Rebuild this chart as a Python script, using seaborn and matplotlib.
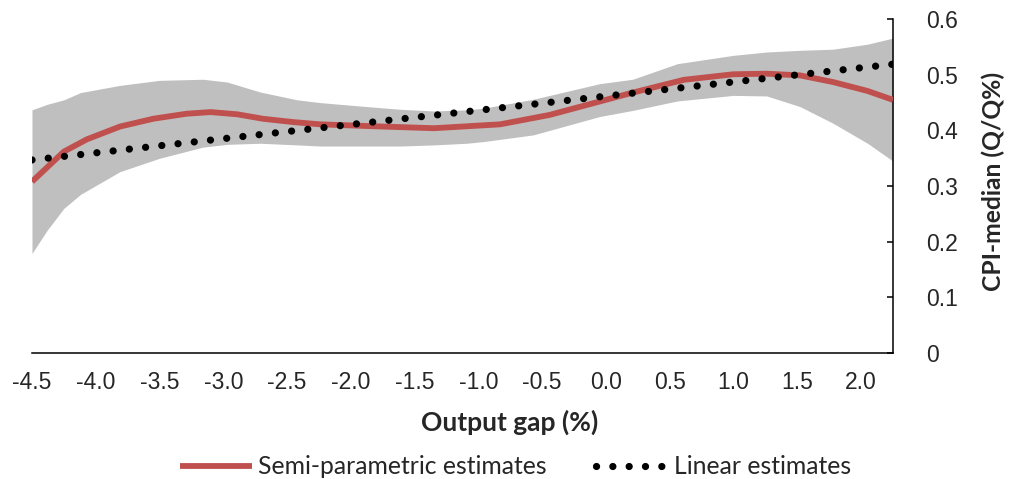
import matplotlib
matplotlib.use("Agg")
import matplotlib.pyplot as plt
import pandas as pd
import seaborn as sns

# ── data ─────────────────────────────────────────────────────────────────
semi_x = [-4.5, -4.25, -4.07, -3.81, -3.55, -3.29, -3.1, -2.89, -2.69, -2.45,
          -2.24, -1.88, -1.35, -0.83, -0.44, -0.05, 0.21, 0.61, 1.0, 1.26,
          1.52, 1.78, 2.05, 2.25]
semi_y = [0.308, 0.362, 0.384, 0.407, 0.421, 0.430, 0.433, 0.429, 0.421, 0.415,
          0.411, 0.408, 0.404, 0.411, 0.428, 0.452, 0.468, 0.491, 0.501, 0.502,
          0.499, 0.487, 0.471, 0.455]

band_x = [-4.5, -4.38, -4.25, -4.12, -3.81, -3.5, -3.16, -2.97, -2.71, -2.42,
          -2.24, -1.88, -1.61, -1.35, -1.09, -0.96, -0.57, -0.05, 0.21, 0.56,
          1.0, 1.26, 1.52, 1.78, 2.05, 2.25]
band_hi = [0.437, 0.447, 0.455, 0.468, 0.481, 0.490, 0.492, 0.487, 0.469, 0.455,
           0.450, 0.443, 0.438, 0.435, 0.437, 0.440, 0.456, 0.484, 0.492, 0.520,
           0.535, 0.541, 0.544, 0.546, 0.555, 0.566]
band_lo = [0.179, 0.221, 0.260, 0.285, 0.326, 0.350, 0.370, 0.375, 0.377, 0.374,
           0.372, 0.372, 0.372, 0.374, 0.377, 0.380, 0.392, 0.425, 0.436, 0.453,
           0.463, 0.462, 0.443, 0.413, 0.377, 0.345]

lin_x = [-4.5, 2.25]
lin_y = [0.347, 0.519]

x_ticks = [-4.5, -4.0, -3.5, -3.0, -2.5, -2.0, -1.5, -1.0, -0.5, 0.0, 0.5, 1.0, 1.5, 2.0]
y_ticks = [0, 0.1, 0.2, 0.3, 0.4, 0.5, 0.6]
y_tick_labels = ["0", "0.1", "0.2", "0.3", "0.4", "0.5", "0.6"]

RED = "#C0504D"
GREY = "#BFBFBF"
CALIBRI_LIKE = ["Lato", "DejaVu Sans"]

sns.set_style("white")
plt.rcParams["font.family"] = ["Liberation Sans", "DejaVu Sans"]

semi = pd.DataFrame({"gap": semi_x, "cpi": semi_y})
lin = pd.DataFrame({"gap": lin_x, "cpi": lin_y})

fig = plt.figure(figsize=(10.09, 4.79), dpi=100)
ax = fig.add_axes([0.0317, 0.263, 0.885 - 0.0317, 0.960 - 0.263])

# confidence band + the two estimates
ax.fill_between(band_x, band_lo, band_hi, color=GREY, linewidth=0, zorder=1)
sns.lineplot(data=semi, x="gap", y="cpi", color=RED, linewidth=4.2, ax=ax,
             zorder=3, legend=False)
sns.lineplot(data=lin, x="gap", y="cpi", color="black", linewidth=5.2, ax=ax,
             zorder=4, legend=False)
semi_line, lin_line = ax.lines[0], ax.lines[1]
semi_line.set_solid_capstyle("butt")
semi_line.set_solid_joinstyle("round")
lin_line.set_linestyle((0, (0.01, 2.25)))
lin_line.set_dash_capstyle("round")

ax.set_xlim(-4.5, 2.25)
ax.set_ylim(0, 0.6)
ax.set_xticks(x_ticks)
ax.set_xticklabels([f"{t:.1f}" for t in x_ticks], fontsize=16.5)
ax.yaxis.tick_right()
ax.yaxis.set_label_position("right")
ax.set_yticks(y_ticks)
ax.set_yticklabels(y_tick_labels, fontsize=16.5)

for side in ["top", "left"]:
    ax.spines[side].set_visible(False)
for side in ["bottom", "right"]:
    ax.spines[side].set_linewidth(1.1)
    ax.spines[side].set_color("black")
ax.tick_params(axis="both", direction="in", length=4.5, width=1.1, color="black")
ax.tick_params(axis="x", pad=13)
ax.tick_params(axis="y", pad=24)

ax.set_xlabel("Output gap (%)", family=CALIBRI_LIKE, fontweight="bold", fontsize=19, labelpad=11)
ax.xaxis.label.set_x(0.555)
ax.set_ylabel("CPI-median (Q/Q%)", family=CALIBRI_LIKE, fontweight="bold", fontsize=17.7, labelpad=17)
ax.yaxis.label.set_y(0.515)

fig.legend([semi_line, lin_line], ["Semi-parametric estimates", "Linear estimates"],
           loc="lower center", bbox_to_anchor=(0.511, -0.045), ncol=2, frameon=False,
           prop={"family": CALIBRI_LIKE, "size": 17.8}, handlelength=2.9,
           handletextpad=0.25, columnspacing=2.0)

fig.savefig("out.png", dpi=100)
